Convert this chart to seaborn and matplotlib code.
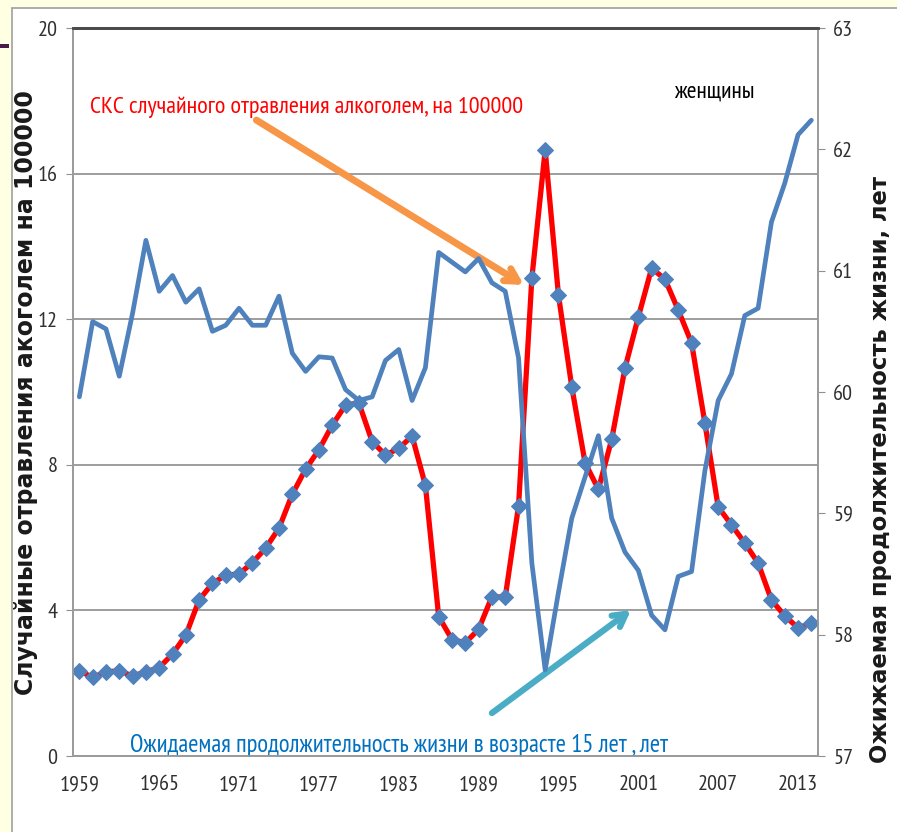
import matplotlib.pyplot as plt
import matplotlib.patches as mpatches
import numpy as np
import seaborn as sns

# данные
years = list(range(1959, 2015))
poisoning = [2.34, 2.16, 2.31, 2.34, 2.20, 2.31, 2.43, 2.80, 3.32, 4.29,
             4.74, 4.97, 5.00, 5.31, 5.71, 6.26, 7.19, 7.88, 8.41,
             9.09, 9.64, 9.70, 8.64, 8.27, 8.45, 8.79, 7.44, 3.83, 3.20,
             3.11, 3.48, 4.38, 4.36, 6.87,
             13.13, 16.65, 12.66, 10.14, 8.05, 7.33, 8.70, 10.66, 12.06,
             13.40, 13.10, 12.25, 11.35, 9.15, 6.84, 6.35, 5.85, 5.30,
             4.29, 3.85, 3.52, 3.65]
life_exp = [59.96, 60.58, 60.52, 60.13, 60.65, 61.25, 60.83, 60.96, 60.74,
            60.85, 60.50, 60.55, 60.69, 60.55, 60.55, 60.79, 60.32, 60.17,
            60.29, 60.28, 60.02, 59.93, 59.96, 60.26, 60.35, 59.93, 60.20,
            61.15, 61.07, 60.99, 61.10, 60.90, 60.83, 60.28,
            58.59, 57.71, 58.35, 58.96, 59.30, 59.64, 58.96, 58.68, 58.53,
            58.16, 58.04, 58.48, 58.52, 59.35, 59.93, 60.15, 60.63, 60.69,
            61.40, 61.72, 62.12, 62.24]
left_ticks = [0, 4, 8, 12, 16, 20]
right_ticks = [57, 58, 59, 60, 61, 62, 63]
year_labels = years[::6]

sns.set_style("white")
narrow = ["PT Sans Narrow", "Carlito", "DejaVu Sans"]
bold_font = ["DejaVu Sans"]

fig = plt.figure(figsize=(8.97, 8.32), dpi=100)

# фон слайда (жёлтая полоса слева и сверху)
fig.patches.append(mpatches.Rectangle((0, 0), 12 / 897, 1, transform=fig.transFigure,
                                      facecolor="#FFFFE3", edgecolor="none", zorder=0))
fig.patches.append(mpatches.Rectangle((0, 1 - 8 / 832), 1, 8 / 832, transform=fig.transFigure,
                                      facecolor="#FFFFE3", edgecolor="none", zorder=0))
fig.add_artist(plt.Line2D([12 / 897, 12 / 897], [0, 1 - 8 / 832], transform=fig.transFigure,
                          color="#A0A0A0", lw=1.2))
fig.add_artist(plt.Line2D([12 / 897, 1], [1 - 8 / 832, 1 - 8 / 832], transform=fig.transFigure,
                          color="#A0A0A0", lw=1.2))
fig.patches.append(mpatches.Rectangle((0, 1 - 48 / 832), 9 / 897, 4 / 832, transform=fig.transFigure,
                                      facecolor="#4A1A4A", edgecolor="none", zorder=1))

ax = fig.add_axes([72.7 / 897, 1 - 756 / 832, (818 - 72.7) / 897, (756 - 28) / 832])
ax2 = ax.twinx()

# красная линия - отравления (левая ось)
sns.lineplot(x=years, y=poisoning, ax=ax, color="#FF0000", linewidth=3.8,
             marker="D", markersize=8.5, markerfacecolor="#4F81BD",
             markeredgecolor="#4F81BD", zorder=3)
# синяя линия - продолжительность жизни (правая ось)
sns.lineplot(x=years, y=life_exp, ax=ax2, color="#4F81BD", linewidth=3.4, zorder=3)

ax.set_xlim(years[0] - 0.5, years[-1] + 0.5)
ax.set_ylim(0, 20)
ax2.set_ylim(57, 63)

ax.set_yticks(left_ticks)
ax.set_yticklabels([str(v) for v in left_ticks], family=narrow, fontsize=16, color="#303030")
ax2.set_yticks(right_ticks)
ax2.set_yticklabels([str(v) for v in right_ticks], family=narrow, fontsize=16, color="#303030")
ax.set_xticks(year_labels)
ax.set_xticklabels([str(y) for y in year_labels], family=narrow, fontsize=16, color="#303030")
ax.set_xticks(np.arange(years[0] - 0.5, years[-1] + 1), minor=True)
ax.tick_params(axis="x", which="major", length=0, pad=14)
ax.tick_params(axis="x", which="minor", length=7, direction="out", color="#909090", width=1)
ax.tick_params(axis="y", length=5, direction="out", color="#909090", pad=6)
ax2.tick_params(axis="y", length=5, direction="out", color="#909090", pad=6)

ax.yaxis.grid(True, color="#8C8C8C", linewidth=1.2)
ax.set_axisbelow(True)
for a in (ax, ax2):
    for s in ("left", "right", "bottom"):
        a.spines[s].set_color("#9A9A9A")
        a.spines[s].set_linewidth(1.2)
    a.spines["top"].set_color("#4A4A4A")
    a.spines["top"].set_linewidth(2)

ax.set_xlabel("")
ax.set_ylabel("Случайные отравления акоголем на 100000", family=bold_font,
              fontsize=17, fontweight="bold", color="#1A1A1A")
ax.yaxis.set_label_coords(-0.046, 0.499)
ax2.set_ylabel("Ожижаемая продолжительность жизни, лет", family=bold_font,
               fontsize=16.3, fontweight="bold", color="#1A1A1A", rotation=90)
ax2.yaxis.set_label_coords(1.068, 0.393)

# подписи и стрелки
ax.text(1959.8, 17.83, "СКС случайного отравления алкоголем, на 100000",
        family=narrow, fontsize=17.5, color="#FF0000", va="center", ha="left")
ax.text(2006.7, 18.24, "женщины", family=narrow, fontsize=17, color="#000000",
        va="center", ha="center")
ax.text(1962.8, 0.30, "Ожидаемая продолжительность жизни в возрасте 15 лет , лет",
        family=narrow, fontsize=17.7, color="#0070C0", va="center", ha="left")

ax.annotate("", xy=(1992.4, 12.94), xytext=(1972.3, 17.47),
            arrowprops=dict(arrowstyle="->,head_length=0.9,head_width=0.5",
                            color="#F79646", lw=5, shrinkA=0, shrinkB=0), zorder=5)
ax.annotate("", xy=(2000.45, 4.01), xytext=(1990.0, 1.18),
            arrowprops=dict(arrowstyle="->,head_length=0.9,head_width=0.5",
                            color="#4BACC6", lw=4.5, shrinkA=0, shrinkB=0), zorder=5)

fig.savefig("out.png", dpi=100)
